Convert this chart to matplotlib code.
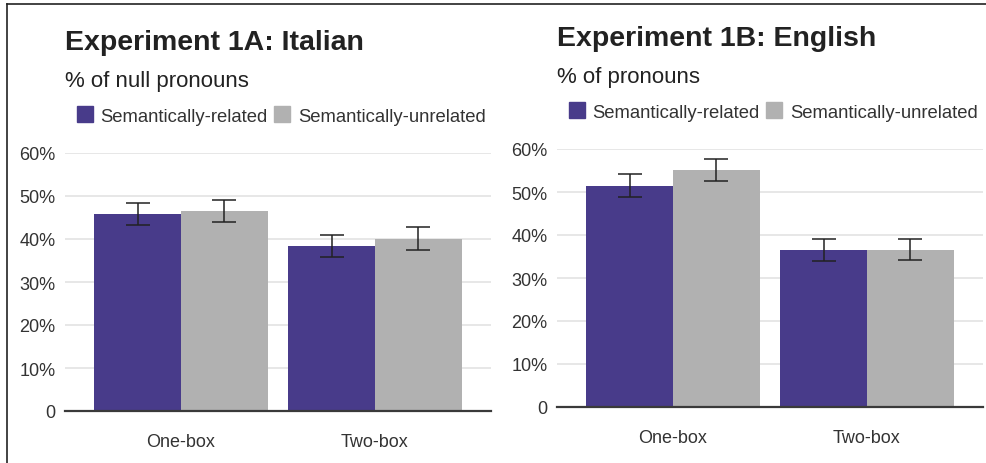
import numpy as np
import matplotlib.pyplot as plt
from matplotlib.patches import Rectangle
from matplotlib.lines import Line2D

plt.rcParams['font.family'] = ['Liberation Sans', 'DejaVu Sans']

# Data (percent)
categories = ['One-box', 'Two-box']
series_names = ['Semantically-related', 'Semantically-unrelated']

italian_related = [45.7, 38.3]
italian_related_lo = [43.2, 35.7]
italian_related_hi = [48.4, 40.9]
italian_unrelated = [46.4, 40.0]
italian_unrelated_lo = [44.0, 37.5]
italian_unrelated_hi = [49.1, 42.7]

english_related = [51.4, 36.4]
english_related_lo = [48.9, 34.0]
english_related_hi = [54.1, 39.0]
english_unrelated = [55.1, 36.4]
english_unrelated_lo = [52.6, 34.1]
english_unrelated_hi = [57.7, 39.1]

yticks = [0, 10, 20, 30, 40, 50, 60]
ytick_labels = ['0', '10%', '20%', '30%', '40%', '50%', '60%']

purple = '#483b8a'
gray = '#b1b1b1'
text_col = '#222222'

W, H = 987, 464
fig = plt.figure(figsize=(W / 100, H / 100), dpi=100)


def fx(px):
    return px / W


def fy(py):
    return 1 - py / H


def panel(left_px, top_px, title, subtitle, rel, rel_lo, rel_hi, unr, unr_lo, unr_hi):
    ax = fig.add_axes([fx(left_px), fy(top_px + 258), 426 / W, 258 / H])
    x = np.arange(len(categories))
    w = 0.448
    for vals, lo, hi, col, off in [(rel, rel_lo, rel_hi, purple, -w / 2),
                                   (unr, unr_lo, unr_hi, gray, w / 2)]:
        vals = np.array(vals)
        err = [vals - np.array(lo), np.array(hi) - vals]
        ax.bar(x + off, vals, width=w, color=col, zorder=2)
        ax.errorbar(x + off, vals, yerr=err, fmt='none', ecolor=text_col,
                    elinewidth=1.1, capsize=8.6, capthick=1.1, zorder=3)
    ax.set_xlim(-0.598, 1.598)
    ax.set_ylim(0, 60)
    ax.set_yticks(yticks)
    ax.set_yticklabels(ytick_labels)
    ax.set_xticks(x)
    ax.set_xticklabels(categories)
    ax.grid(axis='y', color='#e3e3e3', linewidth=1.2, zorder=0)
    ax.axhline(0, color='#3a3a3a', linewidth=1.6, zorder=4, clip_on=False)
    for s in ax.spines.values():
        s.set_visible(False)
    ax.tick_params(axis='both', length=0, labelsize=13, colors='#333333')
    ax.tick_params(axis='y', pad=7)
    ax.tick_params(axis='x', pad=16)

    # titles and legend
    fig.text(fx(left_px), fy(top_px - 104), title, fontsize=20.5,
             fontweight='bold', color=text_col, va='baseline')
    fig.text(fx(left_px), fy(top_px - 67), subtitle, fontsize=16,
             color=text_col, va='baseline')
    sq_top = top_px - 47
    lx = left_px + 12
    fig.patches.append(Rectangle((fx(lx), fy(sq_top + 16)), 16 / W, 16 / H,
                                 transform=fig.transFigure, color=purple))
    fig.text(fx(lx + 23), fy(sq_top + 15), series_names[0], fontsize=13.3,
             color='#333333', va='baseline')
    lx2 = left_px + 209
    fig.patches.append(Rectangle((fx(lx2), fy(sq_top + 16)), 16 / W, 16 / H,
                                 transform=fig.transFigure, color=gray))
    fig.text(fx(lx2 + 24), fy(sq_top + 15), series_names[1], fontsize=13.3,
             color='#333333', va='baseline')
    return ax


panel(65, 154, 'Experiment 1A: Italian', '% of null pronouns',
      italian_related, italian_related_lo, italian_related_hi,
      italian_unrelated, italian_unrelated_lo, italian_unrelated_hi)
panel(557, 150, 'Experiment 1B: English', '% of pronouns',
      english_related, english_related_lo, english_related_hi,
      english_unrelated, english_unrelated_lo, english_unrelated_hi)

# frame lines on top and left edge
fig.add_artist(Line2D([fx(7), 1], [fy(5), fy(5)], color='#222222', linewidth=1.2,
                      transform=fig.transFigure))
fig.add_artist(Line2D([fx(7), fx(7)], [0, fy(5)], color='#222222', linewidth=1.2,
                      transform=fig.transFigure))

fig.savefig('out.png', dpi=100)
